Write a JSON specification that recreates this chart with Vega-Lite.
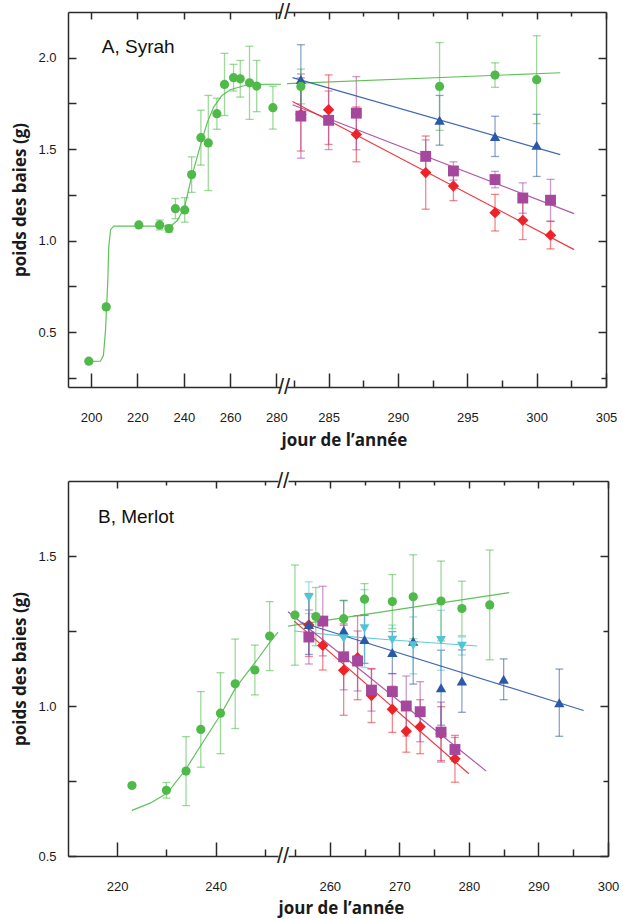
{
  "$schema": "https://vega.github.io/schema/vega-lite/v6.json",
  "padding": {"left": 11, "top": 1, "right": 0, "bottom": 4},
  "config": {
    "view": {"stroke": null},
    "axis": {
      "domainColor": "#2b2b2b", "domainWidth": 1.5, "tickColor": "#2b2b2b", "tickWidth": 1.5,
      "labelFont": "Liberation Sans", "labelFontSize": 13, "labelColor": "#1a1a1a",
      "labelFlush": false, "labelOverlap": false, "grid": false,
      "titleFont": "Open Sans", "titleFontSize": 17, "titleFontWeight": "bold", "titleColor": "#1a1a1a"
    }
  },
  "datasets": {
    "un": [{}],
    "pts": [
      {"panel": "A", "seg": "L", "serie": "vert", "jour": 199, "poids": 0.341, "err": 0},
      {"panel": "A", "seg": "L", "serie": "vert", "jour": 206.5, "poids": 0.638, "err": 0},
      {"panel": "A", "seg": "L", "serie": "vert", "jour": 220.6, "poids": 1.086, "err": 0},
      {"panel": "A", "seg": "L", "serie": "vert", "jour": 229.6, "poids": 1.086, "err": 0.027},
      {"panel": "A", "seg": "L", "serie": "vert", "jour": 233.6, "poids": 1.066, "err": 0.02},
      {"panel": "A", "seg": "L", "serie": "vert", "jour": 236.4, "poids": 1.175, "err": 0.055},
      {"panel": "A", "seg": "L", "serie": "vert", "jour": 240.4, "poids": 1.168, "err": 0.067},
      {"panel": "A", "seg": "L", "serie": "vert", "jour": 243.4, "poids": 1.361, "err": 0.097},
      {"panel": "A", "seg": "L", "serie": "vert", "jour": 247.4, "poids": 1.563, "err": 0.15},
      {"panel": "A", "seg": "L", "serie": "vert", "jour": 250.6, "poids": 1.534, "err": 0.26},
      {"panel": "A", "seg": "L", "serie": "vert", "jour": 254.3, "poids": 1.694, "err": 0.085},
      {"panel": "A", "seg": "L", "serie": "vert", "jour": 257.6, "poids": 1.854, "err": 0.17},
      {"panel": "A", "seg": "L", "serie": "vert", "jour": 261.5, "poids": 1.891, "err": 0.073},
      {"panel": "A", "seg": "L", "serie": "vert", "jour": 264.4, "poids": 1.885, "err": 0.1},
      {"panel": "A", "seg": "L", "serie": "vert", "jour": 268.4, "poids": 1.863, "err": 0.2},
      {"panel": "A", "seg": "L", "serie": "vert", "jour": 271.5, "poids": 1.845, "err": 0.14},
      {"panel": "A", "seg": "L", "serie": "vert", "jour": 278.5, "poids": 1.727, "err": 0.117},

      {"panel": "A", "seg": "R", "serie": "rouge", "jour": 283, "poids": 1.69, "err": 0.2},
      {"panel": "A", "seg": "R", "serie": "rouge", "jour": 285, "poids": 1.716, "err": 0.19},
      {"panel": "A", "seg": "R", "serie": "rouge", "jour": 287, "poids": 1.581, "err": 0.15},
      {"panel": "A", "seg": "R", "serie": "rouge", "jour": 292, "poids": 1.372, "err": 0.2},
      {"panel": "A", "seg": "R", "serie": "rouge", "jour": 294, "poids": 1.299, "err": 0.08},
      {"panel": "A", "seg": "R", "serie": "rouge", "jour": 297, "poids": 1.153, "err": 0.1},
      {"panel": "A", "seg": "R", "serie": "rouge", "jour": 299, "poids": 1.111, "err": 0.105},
      {"panel": "A", "seg": "R", "serie": "rouge", "jour": 301, "poids": 1.03, "err": 0.075},
      {"panel": "A", "seg": "R", "serie": "violet", "jour": 283, "poids": 1.681, "err": 0.23},
      {"panel": "A", "seg": "R", "serie": "violet", "jour": 285, "poids": 1.658, "err": 0.16},
      {"panel": "A", "seg": "R", "serie": "violet", "jour": 287, "poids": 1.697, "err": 0.2},
      {"panel": "A", "seg": "R", "serie": "violet", "jour": 292, "poids": 1.461, "err": 0.09},
      {"panel": "A", "seg": "R", "serie": "violet", "jour": 294, "poids": 1.381, "err": 0.05},
      {"panel": "A", "seg": "R", "serie": "violet", "jour": 297, "poids": 1.334, "err": 0.045},
      {"panel": "A", "seg": "R", "serie": "violet", "jour": 299, "poids": 1.233, "err": 0.083},
      {"panel": "A", "seg": "R", "serie": "violet", "jour": 301, "poids": 1.221, "err": 0.114},
      {"panel": "A", "seg": "R", "serie": "bleu", "jour": 283, "poids": 1.881, "err": 0.19},
      {"panel": "A", "seg": "R", "serie": "bleu", "jour": 293, "poids": 1.658, "err": 0.136},
      {"panel": "A", "seg": "R", "serie": "bleu", "jour": 297, "poids": 1.57, "err": 0.11},
      {"panel": "A", "seg": "R", "serie": "bleu", "jour": 300, "poids": 1.521, "err": 0.17},
      {"panel": "A", "seg": "R", "serie": "vert", "jour": 283, "poids": 1.843, "err": 0.095},
      {"panel": "A", "seg": "R", "serie": "vert", "jour": 293, "poids": 1.843, "err": 0.24},
      {"panel": "A", "seg": "R", "serie": "vert", "jour": 297, "poids": 1.905, "err": 0.067},
      {"panel": "A", "seg": "R", "serie": "vert", "jour": 300, "poids": 1.88, "err": 0.24},

      {"panel": "B", "seg": "L", "serie": "vert", "jour": 223, "poids": 0.735, "err": 0},
      {"panel": "B", "seg": "L", "serie": "vert", "jour": 230, "poids": 0.719, "err": 0.026},
      {"panel": "B", "seg": "L", "serie": "vert", "jour": 234, "poids": 0.783, "err": 0.115},
      {"panel": "B", "seg": "L", "serie": "vert", "jour": 237, "poids": 0.922, "err": 0.126},
      {"panel": "B", "seg": "L", "serie": "vert", "jour": 241, "poids": 0.976, "err": 0.135},
      {"panel": "B", "seg": "L", "serie": "vert", "jour": 244, "poids": 1.074, "err": 0.149},
      {"panel": "B", "seg": "L", "serie": "vert", "jour": 248, "poids": 1.12, "err": 0.083},
      {"panel": "B", "seg": "L", "serie": "vert", "jour": 251, "poids": 1.233, "err": 0.115},

      {"panel": "B", "seg": "R", "serie": "rouge", "jour": 257, "poids": 1.27, "err": 0.105},
      {"panel": "B", "seg": "R", "serie": "rouge", "jour": 259, "poids": 1.202, "err": 0.082},
      {"panel": "B", "seg": "R", "serie": "rouge", "jour": 262, "poids": 1.119, "err": 0.15},
      {"panel": "B", "seg": "R", "serie": "rouge", "jour": 264, "poids": 1.161, "err": 0.14},
      {"panel": "B", "seg": "R", "serie": "rouge", "jour": 266, "poids": 1.035, "err": 0.09},
      {"panel": "B", "seg": "R", "serie": "rouge", "jour": 269, "poids": 0.989, "err": 0.077},
      {"panel": "B", "seg": "R", "serie": "rouge", "jour": 271, "poids": 0.916, "err": 0.07},
      {"panel": "B", "seg": "R", "serie": "rouge", "jour": 273, "poids": 0.931, "err": 0.09},
      {"panel": "B", "seg": "R", "serie": "rouge", "jour": 276, "poids": 0.908, "err": 0.09},
      {"panel": "B", "seg": "R", "serie": "rouge", "jour": 278, "poids": 0.824, "err": 0.078},
      {"panel": "B", "seg": "R", "serie": "violet", "jour": 257, "poids": 1.23, "err": 0.09},
      {"panel": "B", "seg": "R", "serie": "violet", "jour": 259, "poids": 1.283, "err": 0.116},
      {"panel": "B", "seg": "R", "serie": "violet", "jour": 262, "poids": 1.164, "err": 0.11},
      {"panel": "B", "seg": "R", "serie": "violet", "jour": 264, "poids": 1.15, "err": 0.1},
      {"panel": "B", "seg": "R", "serie": "violet", "jour": 266, "poids": 1.053, "err": 0.07},
      {"panel": "B", "seg": "R", "serie": "violet", "jour": 269, "poids": 1.048, "err": 0.06},
      {"panel": "B", "seg": "R", "serie": "violet", "jour": 271, "poids": 1.0, "err": 0.1},
      {"panel": "B", "seg": "R", "serie": "violet", "jour": 273, "poids": 0.981, "err": 0.1},
      {"panel": "B", "seg": "R", "serie": "violet", "jour": 276, "poids": 0.913, "err": 0.1},
      {"panel": "B", "seg": "R", "serie": "violet", "jour": 278, "poids": 0.855, "err": 0.04},
      {"panel": "B", "seg": "R", "serie": "bleu", "jour": 257, "poids": 1.272, "err": 0.1},
      {"panel": "B", "seg": "R", "serie": "bleu", "jour": 262, "poids": 1.252, "err": 0.1},
      {"panel": "B", "seg": "R", "serie": "bleu", "jour": 265, "poids": 1.222, "err": 0.08},
      {"panel": "B", "seg": "R", "serie": "bleu", "jour": 269, "poids": 1.178, "err": 0.07},
      {"panel": "B", "seg": "R", "serie": "bleu", "jour": 272, "poids": 1.216, "err": 0.143},
      {"panel": "B", "seg": "R", "serie": "bleu", "jour": 276, "poids": 1.061, "err": 0.125},
      {"panel": "B", "seg": "R", "serie": "bleu", "jour": 279, "poids": 1.083, "err": 0.104},
      {"panel": "B", "seg": "R", "serie": "bleu", "jour": 285, "poids": 1.089, "err": 0.068},
      {"panel": "B", "seg": "R", "serie": "bleu", "jour": 293, "poids": 1.011, "err": 0.112},
      {"panel": "B", "seg": "R", "serie": "cyan", "jour": 257, "poids": 1.361, "err": 0.053},
      {"panel": "B", "seg": "R", "serie": "cyan", "jour": 262, "poids": 1.225, "err": 0.07},
      {"panel": "B", "seg": "R", "serie": "cyan", "jour": 265, "poids": 1.258, "err": 0.13},
      {"panel": "B", "seg": "R", "serie": "cyan", "jour": 269, "poids": 1.22, "err": 0.05},
      {"panel": "B", "seg": "R", "serie": "cyan", "jour": 272, "poids": 1.202, "err": 0.095},
      {"panel": "B", "seg": "R", "serie": "cyan", "jour": 276, "poids": 1.219, "err": 0.1},
      {"panel": "B", "seg": "R", "serie": "cyan", "jour": 279, "poids": 1.2, "err": 0.03},
      {"panel": "B", "seg": "R", "serie": "vert", "jour": 255, "poids": 1.303, "err": 0.167},
      {"panel": "B", "seg": "R", "serie": "vert", "jour": 258, "poids": 1.298, "err": 0.097},
      {"panel": "B", "seg": "R", "serie": "vert", "jour": 262, "poids": 1.291, "err": 0.06},
      {"panel": "B", "seg": "R", "serie": "vert", "jour": 265, "poids": 1.356, "err": 0.052},
      {"panel": "B", "seg": "R", "serie": "vert", "jour": 269, "poids": 1.348, "err": 0.09},
      {"panel": "B", "seg": "R", "serie": "vert", "jour": 272, "poids": 1.364, "err": 0.14},
      {"panel": "B", "seg": "R", "serie": "vert", "jour": 276, "poids": 1.35, "err": 0.133},
      {"panel": "B", "seg": "R", "serie": "vert", "jour": 279, "poids": 1.325, "err": 0.091},
      {"panel": "B", "seg": "R", "serie": "vert", "jour": 283, "poids": 1.337, "err": 0.183}
    ],
    "lignes": [
      {"panel": "A", "seg": "L", "serie": "vert", "jour": 199, "poids": 0.34},
      {"panel": "A", "seg": "L", "serie": "vert", "jour": 204, "poids": 0.341},
      {"panel": "A", "seg": "L", "serie": "vert", "jour": 205.3, "poids": 0.372},
      {"panel": "A", "seg": "L", "serie": "vert", "jour": 206.2, "poids": 0.51},
      {"panel": "A", "seg": "L", "serie": "vert", "jour": 207.2, "poids": 0.784},
      {"panel": "A", "seg": "L", "serie": "vert", "jour": 207.6, "poids": 0.966},
      {"panel": "A", "seg": "L", "serie": "vert", "jour": 208.4, "poids": 1.06},
      {"panel": "A", "seg": "L", "serie": "vert", "jour": 209.8, "poids": 1.079},
      {"panel": "A", "seg": "L", "serie": "vert", "jour": 234.3, "poids": 1.079},
      {"panel": "A", "seg": "L", "serie": "vert", "jour": 237.2, "poids": 1.11},
      {"panel": "A", "seg": "L", "serie": "vert", "jour": 240.4, "poids": 1.184},
      {"panel": "A", "seg": "L", "serie": "vert", "jour": 243, "poids": 1.33},
      {"panel": "A", "seg": "L", "serie": "vert", "jour": 247.4, "poids": 1.53},
      {"panel": "A", "seg": "L", "serie": "vert", "jour": 250, "poids": 1.64},
      {"panel": "A", "seg": "L", "serie": "vert", "jour": 252.9, "poids": 1.73},
      {"panel": "A", "seg": "L", "serie": "vert", "jour": 256.5, "poids": 1.794},
      {"panel": "A", "seg": "L", "serie": "vert", "jour": 260.1, "poids": 1.825},
      {"panel": "A", "seg": "L", "serie": "vert", "jour": 265.9, "poids": 1.847},
      {"panel": "A", "seg": "L", "serie": "vert", "jour": 271.6, "poids": 1.854},
      {"panel": "A", "seg": "L", "serie": "vert", "jour": 282, "poids": 1.855},
      {"panel": "A", "seg": "R", "serie": "vert", "jour": 282, "poids": 1.858},
      {"panel": "A", "seg": "R", "serie": "vert", "jour": 301.7, "poids": 1.918},
      {"panel": "A", "seg": "R", "serie": "bleu", "jour": 282.4, "poids": 1.891},
      {"panel": "A", "seg": "R", "serie": "bleu", "jour": 301.7, "poids": 1.47},
      {"panel": "A", "seg": "R", "serie": "violet", "jour": 282.4, "poids": 1.743},
      {"panel": "A", "seg": "R", "serie": "violet", "jour": 302.7, "poids": 1.148},
      {"panel": "A", "seg": "R", "serie": "rouge", "jour": 282.4, "poids": 1.761},
      {"panel": "A", "seg": "R", "serie": "rouge", "jour": 302.7, "poids": 0.951},
      {"panel": "B", "seg": "L", "serie": "vert", "jour": 223, "poids": 0.652},
      {"panel": "B", "seg": "L", "serie": "vert", "jour": 226.8, "poids": 0.677},
      {"panel": "B", "seg": "L", "serie": "vert", "jour": 230.2, "poids": 0.71},
      {"panel": "B", "seg": "L", "serie": "vert", "jour": 234, "poids": 0.79},
      {"panel": "B", "seg": "L", "serie": "vert", "jour": 236.9, "poids": 0.866},
      {"panel": "B", "seg": "L", "serie": "vert", "jour": 241, "poids": 0.97},
      {"panel": "B", "seg": "L", "serie": "vert", "jour": 244, "poids": 1.058},
      {"panel": "B", "seg": "L", "serie": "vert", "jour": 245.4, "poids": 1.089},
      {"panel": "B", "seg": "L", "serie": "vert", "jour": 248.5, "poids": 1.155},
      {"panel": "B", "seg": "L", "serie": "vert", "jour": 251, "poids": 1.211},
      {"panel": "B", "seg": "L", "serie": "vert", "jour": 252.7, "poids": 1.246},
      {"panel": "B", "seg": "R", "serie": "vert", "jour": 254, "poids": 1.266},
      {"panel": "B", "seg": "R", "serie": "vert", "jour": 285.8, "poids": 1.378},
      {"panel": "B", "seg": "R", "serie": "cyan", "jour": 254.9, "poids": 1.25},
      {"panel": "B", "seg": "R", "serie": "cyan", "jour": 262, "poids": 1.233},
      {"panel": "B", "seg": "R", "serie": "cyan", "jour": 269, "poids": 1.22},
      {"panel": "B", "seg": "R", "serie": "cyan", "jour": 281.2, "poids": 1.2},
      {"panel": "B", "seg": "R", "serie": "bleu", "jour": 255.8, "poids": 1.279},
      {"panel": "B", "seg": "R", "serie": "bleu", "jour": 296.5, "poids": 0.985},
      {"panel": "B", "seg": "R", "serie": "violet", "jour": 254, "poids": 1.314},
      {"panel": "B", "seg": "R", "serie": "violet", "jour": 282.5, "poids": 0.783},
      {"panel": "B", "seg": "R", "serie": "rouge", "jour": 254.9, "poids": 1.283},
      {"panel": "B", "seg": "R", "serie": "rouge", "jour": 280, "poids": 0.774}
    ]
  },
  "spacing": 22,
  "vconcat": [
    {
      "bounds": "flush",
      "spacing": 6,
      "hconcat": [
        {
          "width": 213, "height": 375,
          "resolve": {"axis": {"x": "independent", "y": "independent"}},
          "layer": [
            {
              "data": {"name": "pts"},
              "transform": [{"filter": "datum.panel === 'A' && datum.seg === 'L' && datum.err > 0"}],
              "mark": {"type": "errorbar", "ticks": {"opacity": 0.55}, "rule": {"opacity": 0.55}, "size": 8, "thickness": 1.3},
              "encoding": {
                "x": {"field": "jour", "type": "quantitative", "scale": {"domain": [190, 282], "nice": false, "zero": false}, "axis": null},
                "y": {"field": "poids", "type": "quantitative", "scale": {"domain": [0.2, 2.25], "nice": false, "zero": false}, "axis": null},
                "yError": {"field": "err"},
                "color": {"field": "serie", "type": "nominal", "scale": {"domain": ["rouge", "violet", "bleu", "cyan", "vert"], "range": ["#ee2229", "#a6479e", "#2b59a8", "#52c4d4", "#4fba49"]}, "legend": null}
              }
            },
            {
              "data": {"name": "lignes"},
              "transform": [{"filter": "datum.panel === 'A' && datum.seg === 'L'"}],
              "mark": {"type": "line", "strokeWidth": 1.2, "opacity": 0.9},
              "encoding": {
                "x": {"field": "jour", "type": "quantitative", "scale": {"domain": [190, 282], "nice": false, "zero": false},
                      "axis": {"orient": "top", "values": [200, 220, 240, 260, 280], "labels": false, "tickSize": -7, "title": null}},
                "y": {"field": "poids", "type": "quantitative", "scale": {"domain": [0.2, 2.25], "nice": false, "zero": false}, "axis": null},
                "color": {"field": "serie", "type": "nominal", "legend": null},
                "detail": {"field": "serie"}
              }
            },
            {
              "data": {"name": "pts"},
              "transform": [{"filter": "datum.panel === 'A' && datum.seg === 'L'"}],
              "mark": {"type": "point", "filled": true, "opacity": 1},
              "encoding": {
                "x": {"field": "jour", "type": "quantitative", "scale": {"domain": [190, 282], "nice": false, "zero": false},
                      "axis": {"orient": "bottom", "values": [200, 220, 240, 260, 280], "tickSize": -14, "labelPadding": 38, "title": null}},
                "y": {"field": "poids", "type": "quantitative", "scale": {"domain": [0.2, 2.25], "nice": false, "zero": false},
                      "axis": {"orient": "left", "values": [0.25, 0.5, 0.75, 1, 1.25, 1.5, 1.75, 2], "tickSize": -8, "labelPadding": 20,
                               "labelExpr": "datum.value % 0.5 === 0 ? format(datum.value, '.1f') : ''", "title": "poids des baies (g)", "titlePadding": 8}},
                "color": {"field": "serie", "type": "nominal", "legend": null},
                "shape": {"field": "serie", "type": "nominal", "scale": {"domain": ["rouge", "violet", "bleu", "cyan", "vert"], "range": ["diamond", "square", "triangle-up", "triangle-down", "circle"]}, "legend": null},
                "size": {"field": "serie", "type": "nominal", "scale": {"domain": ["rouge", "violet", "bleu", "cyan", "vert"], "range": [130, 85, 120, 120, 92]}, "legend": null}
              }
            },
            {
              "data": {"name": "un"},
              "mark": {"type": "text", "align": "left", "baseline": "middle", "font": "Liberation Sans", "fontSize": 19, "color": "#111111"},
              "encoding": {
                "text": {"value": "A, Syrah"},
                "x": {"datum": 204.6, "type": "quantitative", "scale": {"domain": [190, 282], "nice": false, "zero": false}, "axis": null},
                "y": {"datum": 2.056, "type": "quantitative", "scale": {"domain": [0.2, 2.25], "nice": false, "zero": false}, "axis": null}
              }
            },
            {
              "data": {"name": "un"},
              "mark": {"type": "text", "text": "//", "align": "center", "baseline": "middle", "font": "Liberation Sans", "fontSize": 22, "dx": 3, "color": "#222222"},
              "encoding": {
                "x": {"datum": 282, "type": "quantitative", "scale": {"domain": [190, 282], "nice": false, "zero": false}, "axis": null},
                "y": {"datum": 2.25, "type": "quantitative", "scale": {"domain": [0.2, 2.25], "nice": false, "zero": false}, "axis": null}
              }
            },
            {
              "data": {"name": "un"},
              "mark": {"type": "text", "text": "//", "align": "center", "baseline": "middle", "font": "Liberation Sans", "fontSize": 22, "dx": 3, "color": "#222222"},
              "encoding": {
                "x": {"datum": 282, "type": "quantitative", "scale": {"domain": [190, 282], "nice": false, "zero": false}, "axis": null},
                "y": {"datum": 0.2, "type": "quantitative", "scale": {"domain": [0.2, 2.25], "nice": false, "zero": false}, "axis": null}
              }
            }
          ]
        },
        {
          "width": 319, "height": 375,
          "resolve": {"axis": {"x": "independent", "y": "independent"}},
          "layer": [
            {
              "data": {"name": "pts"},
              "transform": [{"filter": "datum.panel === 'A' && datum.seg === 'R' && datum.err > 0"}],
              "mark": {"type": "errorbar", "ticks": {"opacity": 0.55}, "rule": {"opacity": 0.55}, "size": 8, "thickness": 1.3},
              "encoding": {
                "x": {"field": "jour", "type": "quantitative", "scale": {"domain": [282, 305], "nice": false, "zero": false}, "axis": null},
                "y": {"field": "poids", "type": "quantitative", "scale": {"domain": [0.2, 2.25], "nice": false, "zero": false}, "axis": null},
                "yError": {"field": "err"},
                "color": {"field": "serie", "type": "nominal", "scale": {"domain": ["rouge", "violet", "bleu", "cyan", "vert"], "range": ["#ee2229", "#a6479e", "#2b59a8", "#52c4d4", "#4fba49"]}, "legend": null}
              }
            },
            {
              "data": {"name": "lignes"},
              "transform": [{"filter": "datum.panel === 'A' && datum.seg === 'R'"}],
              "mark": {"type": "line", "strokeWidth": 1.2, "opacity": 0.9},
              "encoding": {
                "x": {"field": "jour", "type": "quantitative", "scale": {"domain": [282, 305], "nice": false, "zero": false},
                      "axis": {"orient": "top", "values": [282.5, 285, 287.5, 290, 292.5, 295, 297.5, 300, 302.5, 305], "labels": false,
                               "tickSize": {"condition": {"test": "datum.value % 5 === 0", "value": -7}, "value": -4}, "title": null}},
                "y": {"field": "poids", "type": "quantitative", "scale": {"domain": [0.2, 2.25], "nice": false, "zero": false}, "axis": null},
                "color": {"field": "serie", "type": "nominal", "legend": null},
                "detail": {"field": "serie"}
              }
            },
            {
              "data": {"name": "pts"},
              "transform": [{"filter": "datum.panel === 'A' && datum.seg === 'R'"}],
              "mark": {"type": "point", "filled": true, "opacity": 1},
              "encoding": {
                "x": {"field": "jour", "type": "quantitative", "scale": {"domain": [282, 305], "nice": false, "zero": false},
                      "axis": {"orient": "bottom", "values": [282.5, 285, 287.5, 290, 292.5, 295, 297.5, 300, 302.5, 305],
                               "tickSize": {"condition": {"test": "datum.value % 5 === 0", "value": -14}, "value": -7}, "labelPadding": 38,
                               "labelExpr": "datum.value % 5 === 0 ? datum.label : ''",
                               "title": "jour de l’année", "titleX": 57, "titleAlign": "center", "titlePadding": 1}},
                "y": {"field": "poids", "type": "quantitative", "scale": {"domain": [0.2, 2.25], "nice": false, "zero": false},
                      "axis": {"orient": "right", "values": [0.25, 0.5, 0.75, 1, 1.25, 1.5, 1.75, 2], "labels": false,
                               "tickSize": {"condition": {"test": "datum.value % 0.5 === 0", "value": -8}, "value": -5}, "title": null}},
                "color": {"field": "serie", "type": "nominal", "legend": null},
                "shape": {"field": "serie", "type": "nominal", "scale": {"domain": ["rouge", "violet", "bleu", "cyan", "vert"], "range": ["diamond", "square", "triangle-up", "triangle-down", "circle"]}, "legend": null},
                "size": {"field": "serie", "type": "nominal", "scale": {"domain": ["rouge", "violet", "bleu", "cyan", "vert"], "range": [130, 85, 120, 120, 92]}, "legend": null}
              }
            }
          ]
        }
      ]
    },
    {
      "bounds": "flush",
      "spacing": 10,
      "hconcat": [
        {
          "width": 210, "height": 375,
          "resolve": {"axis": {"x": "independent", "y": "independent"}},
          "layer": [
            {
              "data": {"name": "pts"},
              "transform": [{"filter": "datum.panel === 'B' && datum.seg === 'L' && datum.err > 0"}],
              "mark": {"type": "errorbar", "ticks": {"opacity": 0.55}, "rule": {"opacity": 0.55}, "size": 8, "thickness": 1.3},
              "encoding": {
                "x": {"field": "jour", "type": "quantitative", "scale": {"domain": [210, 252.7], "nice": false, "zero": false}, "axis": null},
                "y": {"field": "poids", "type": "quantitative", "scale": {"domain": [0.5, 1.75], "nice": false, "zero": false}, "axis": null},
                "yError": {"field": "err"},
                "color": {"field": "serie", "type": "nominal", "scale": {"domain": ["rouge", "violet", "bleu", "cyan", "vert"], "range": ["#ee2229", "#a6479e", "#2b59a8", "#52c4d4", "#4fba49"]}, "legend": null}
              }
            },
            {
              "data": {"name": "lignes"},
              "transform": [{"filter": "datum.panel === 'B' && datum.seg === 'L'"}],
              "mark": {"type": "line", "strokeWidth": 1.2, "opacity": 0.9},
              "encoding": {
                "x": {"field": "jour", "type": "quantitative", "scale": {"domain": [210, 252.7], "nice": false, "zero": false},
                      "axis": {"orient": "top", "values": [220, 230, 240, 250], "labels": false,
                               "tickSize": {"condition": {"test": "datum.value % 20 === 0", "value": -7}, "value": -4}, "title": null}},
                "y": {"field": "poids", "type": "quantitative", "scale": {"domain": [0.5, 1.75], "nice": false, "zero": false}, "axis": null},
                "color": {"field": "serie", "type": "nominal", "legend": null},
                "detail": {"field": "serie"}
              }
            },
            {
              "data": {"name": "pts"},
              "transform": [{"filter": "datum.panel === 'B' && datum.seg === 'L'"}],
              "mark": {"type": "point", "filled": true, "opacity": 1},
              "encoding": {
                "x": {"field": "jour", "type": "quantitative", "scale": {"domain": [210, 252.7], "nice": false, "zero": false},
                      "axis": {"orient": "bottom", "values": [220, 230, 240, 250],
                               "tickSize": {"condition": {"test": "datum.value % 20 === 0", "value": -14}, "value": -7}, "labelPadding": 38,
                               "labelExpr": "datum.value % 20 === 0 ? datum.label : ''", "title": null}},
                "y": {"field": "poids", "type": "quantitative", "scale": {"domain": [0.5, 1.75], "nice": false, "zero": false},
                      "axis": {"orient": "left", "values": [0.5, 0.75, 1, 1.25, 1.5], "tickSize": -8, "labelPadding": 20,
                               "labelExpr": "datum.value % 0.5 === 0 ? format(datum.value, '.1f') : ''", "title": "poids des baies (g)", "titlePadding": 8}},
                "color": {"field": "serie", "type": "nominal", "legend": null},
                "shape": {"field": "serie", "type": "nominal", "scale": {"domain": ["rouge", "violet", "bleu", "cyan", "vert"], "range": ["diamond", "square", "triangle-up", "triangle-down", "circle"]}, "legend": null},
                "size": {"field": "serie", "type": "nominal", "scale": {"domain": ["rouge", "violet", "bleu", "cyan", "vert"], "range": [130, 85, 120, 120, 92]}, "legend": null}
              }
            },
            {
              "data": {"name": "un"},
              "mark": {"type": "text", "align": "left", "baseline": "middle", "font": "Liberation Sans", "fontSize": 19, "color": "#111111"},
              "encoding": {
                "text": {"value": "B, Merlot"},
                "x": {"datum": 216.1, "type": "quantitative", "scale": {"domain": [210, 252.7], "nice": false, "zero": false}, "axis": null},
                "y": {"datum": 1.629, "type": "quantitative", "scale": {"domain": [0.5, 1.75], "nice": false, "zero": false}, "axis": null}
              }
            },
            {
              "data": {"name": "un"},
              "mark": {"type": "text", "text": "//", "align": "center", "baseline": "middle", "font": "Liberation Sans", "fontSize": 22, "dx": 5, "color": "#222222"},
              "encoding": {
                "x": {"datum": 252.7, "type": "quantitative", "scale": {"domain": [210, 252.7], "nice": false, "zero": false}, "axis": null},
                "y": {"datum": 1.75, "type": "quantitative", "scale": {"domain": [0.5, 1.75], "nice": false, "zero": false}, "axis": null}
              }
            },
            {
              "data": {"name": "un"},
              "mark": {"type": "text", "text": "//", "align": "center", "baseline": "middle", "font": "Liberation Sans", "fontSize": 22, "dx": 5, "color": "#222222"},
              "encoding": {
                "x": {"datum": 252.7, "type": "quantitative", "scale": {"domain": [210, 252.7], "nice": false, "zero": false}, "axis": null},
                "y": {"datum": 0.5, "type": "quantitative", "scale": {"domain": [0.5, 1.75], "nice": false, "zero": false}, "axis": null}
              }
            }
          ]
        },
        {
          "width": 320, "height": 375,
          "resolve": {"axis": {"x": "independent", "y": "independent"}},
          "layer": [
            {
              "data": {"name": "pts"},
              "transform": [{"filter": "datum.panel === 'B' && datum.seg === 'R' && datum.err > 0"}],
              "mark": {"type": "errorbar", "ticks": {"opacity": 0.55}, "rule": {"opacity": 0.55}, "size": 8, "thickness": 1.3},
              "encoding": {
                "x": {"field": "jour", "type": "quantitative", "scale": {"domain": [254, 300], "nice": false, "zero": false}, "axis": null},
                "y": {"field": "poids", "type": "quantitative", "scale": {"domain": [0.5, 1.75], "nice": false, "zero": false}, "axis": null},
                "yError": {"field": "err"},
                "color": {"field": "serie", "type": "nominal", "scale": {"domain": ["rouge", "violet", "bleu", "cyan", "vert"], "range": ["#ee2229", "#a6479e", "#2b59a8", "#52c4d4", "#4fba49"]}, "legend": null}
              }
            },
            {
              "data": {"name": "lignes"},
              "transform": [{"filter": "datum.panel === 'B' && datum.seg === 'R'"}],
              "mark": {"type": "line", "strokeWidth": 1.2, "opacity": 0.9},
              "encoding": {
                "x": {"field": "jour", "type": "quantitative", "scale": {"domain": [254, 300], "nice": false, "zero": false},
                      "axis": {"orient": "top", "values": [255, 260, 265, 270, 275, 280, 285, 290, 295, 300], "labels": false,
                               "tickSize": {"condition": {"test": "datum.value % 10 === 0", "value": -7}, "value": -4}, "title": null}},
                "y": {"field": "poids", "type": "quantitative", "scale": {"domain": [0.5, 1.75], "nice": false, "zero": false}, "axis": null},
                "color": {"field": "serie", "type": "nominal", "legend": null},
                "detail": {"field": "serie"}
              }
            },
            {
              "data": {"name": "pts"},
              "transform": [{"filter": "datum.panel === 'B' && datum.seg === 'R'"}],
              "mark": {"type": "point", "filled": true, "opacity": 1},
              "encoding": {
                "x": {"field": "jour", "type": "quantitative", "scale": {"domain": [254, 300], "nice": false, "zero": false},
                      "axis": {"orient": "bottom", "values": [255, 260, 265, 270, 275, 280, 285, 290, 295, 300],
                               "tickSize": {"condition": {"test": "datum.value % 10 === 0", "value": -14}, "value": -7}, "labelPadding": 38,
                               "labelExpr": "datum.value % 10 === 0 ? datum.label : ''",
                               "title": "jour de l’année", "titleX": 53, "titleAlign": "center", "titlePadding": 0}},
                "y": {"field": "poids", "type": "quantitative", "scale": {"domain": [0.5, 1.75], "nice": false, "zero": false},
                      "axis": {"orient": "right", "values": [0.5, 0.75, 1, 1.25, 1.5], "labels": false,
                               "tickSize": {"condition": {"test": "datum.value % 0.5 === 0", "value": -8}, "value": -5}, "title": null}},
                "color": {"field": "serie", "type": "nominal", "legend": null},
                "shape": {"field": "serie", "type": "nominal", "scale": {"domain": ["rouge", "violet", "bleu", "cyan", "vert"], "range": ["diamond", "square", "triangle-up", "triangle-down", "circle"]}, "legend": null},
                "size": {"field": "serie", "type": "nominal", "scale": {"domain": ["rouge", "violet", "bleu", "cyan", "vert"], "range": [130, 85, 120, 120, 92]}, "legend": null}
              }
            }
          ]
        }
      ]
    }
  ]
}
